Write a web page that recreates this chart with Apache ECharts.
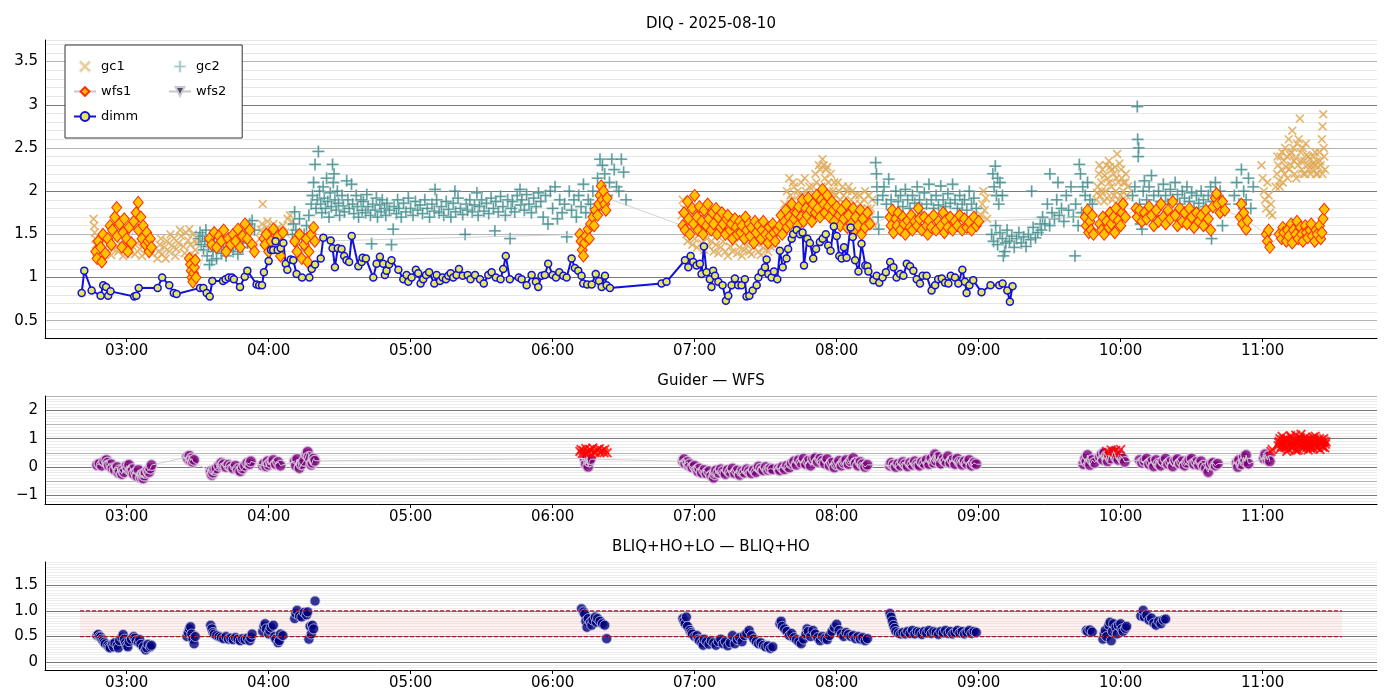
<!DOCTYPE html>
<html>
<head>
<meta charset="utf-8">
<script src="https://cdn.jsdelivr.net/npm/echarts@6/dist/echarts.min.js"></script>
<style>
  html, body { margin: 0; padding: 0; background: #fff; }
  #chart { width: 1400px; height: 700px; }
</style>
</head>
<body>
<div id="chart"></div>
<script>
// time values are minutes after 00:00 UT

const panelTitles = ["DIQ - 2025-08-10", "Guider — WFS", "BLIQ+HO+LO — BLIQ+HO"];
const hourTicks = [180, 240, 300, 360, 420, 480, 540, 600, 660];

const dimm = [
  [161.0,0.82],[162.1,1.08],[165.2,0.85],[169.0,0.79],[170.1,0.91],[171.3,0.89],[172.2,0.79],[173.2,0.84],
  [183.2,0.78],[184.1,0.79],[185.1,0.88],[193.1,0.88],[195.0,1.00],[198.0,0.91],[199.9,0.82],[201.1,0.81],
  [211.0,0.88],[212.4,0.88],[213.8,0.82],[215.1,0.78],[216.2,0.96],[220.7,0.96],[221.8,0.98],[223.1,1.00],
  [224.5,1.00],[225.3,0.98],[227.9,0.89],[229.9,1.01],[231.0,1.08],[234.9,0.92],[236.0,0.91],[237.2,0.91],
  [238.0,1.06],[240.0,1.19],[241.0,1.32],[241.9,1.32],[242.9,1.42],[243.8,1.32],[245.1,1.34],[246.2,1.40],
  [247.2,1.16],[247.9,1.09],[249.3,1.21],[250.4,1.20],[251.8,1.04],[254.1,1.00],[257.2,1.00],[258.2,1.10],
  [259.6,1.15],[262.0,1.22],[263.1,1.46],[266.2,1.43],[267.0,1.34],[268.0,1.12],[269.2,1.34],[270.8,1.33],
  [271.9,1.25],[272.9,1.20],[274.0,1.18],[275.1,1.48],[277.9,1.13],[279.3,1.18],[279.7,1.23],[281.1,1.22],
  [284.2,1.00],[285.6,1.16],[287.0,1.24],[288.4,1.16],[289.1,1.03],[289.8,1.08],[290.9,1.15],[291.9,1.20],
  [294.8,1.09],[296.9,0.98],[298.3,1.03],[299.0,0.95],[300.4,1.00],[302.2,1.09],[303.2,1.05],[304.2,0.93],
  [305.3,0.98],[306.5,1.03],[307.8,1.06],[310.0,0.93],[311.0,1.03],[312.4,0.96],[313.5,1.00],[314.9,0.98],
  [315.9,1.02],[316.9,1.05],[318.0,1.00],[319.4,1.03],[320.4,1.10],[322.0,1.02],[324.1,1.03],[325.3,0.98],
  [327.2,1.03],[329.3,0.98],[330.9,0.93],[332.8,1.03],[334.2,1.06],[336.0,1.00],[338.0,0.98],[339.1,1.10],
  [340.2,1.25],[341.9,0.98],[345.7,1.00],[346.9,0.98],[349.0,0.91],[351.1,1.03],[352.9,0.95],[353.9,0.89],
  [355.3,1.02],[356.7,1.03],[358.1,1.16],[360.0,1.03],[361.4,1.00],[362.8,1.06],[364.5,1.02],[365.9,1.00],
  [368.0,1.22],[369.4,1.11],[370.8,1.08],[372.2,1.02],[372.9,0.93],[374.6,0.92],[376.5,0.92],[378.2,1.04],
  [379.6,0.96],[380.7,0.89],[382.1,1.02],[382.8,0.91],[384.2,0.88],[406.0,0.93],[408.1,0.95],[415.9,1.20],
  [417.3,1.12],[418.3,1.25],[419.4,1.18],[420.8,1.14],[422.2,1.16],[422.9,1.04],[423.9,1.36],[425.0,1.06],
  [426.4,0.98],[427.1,0.89],[427.8,1.08],[428.6,1.02],[430.0,0.95],[431.8,0.91],[433.2,0.73],[434.2,0.79],
  [435.6,0.91],[437.0,0.99],[438.4,0.91],[439.8,0.91],[441.2,0.98],[441.9,0.78],[443.1,0.79],[444.5,0.85],
  [446.2,0.91],[446.9,1.00],[448.3,1.06],[449.7,1.12],[450.4,1.21],[451.1,1.04],[452.5,1.00],[453.5,1.07],
  [454.9,0.98],[456.0,1.31],[457.2,1.12],[458.8,1.22],[459.5,1.33],[461.0,1.45],[461.6,1.50],[463.1,1.55],
  [464.5,1.50],[465.6,1.52],[466.2,1.14],[467.6,1.45],[468.7,1.40],[470.1,1.22],[471.3,1.33],[472.9,1.41],
  [474.1,1.45],[475.4,1.50],[476.4,1.37],[477.4,1.31],[478.8,1.59],[480.0,1.48],[481.1,1.25],[482.1,1.22],
  [483.1,1.35],[484.2,1.23],[485.9,1.58],[486.8,1.47],[487.8,1.20],[489.2,1.07],[490.5,1.39],[492.1,1.14],
  [493.0,1.13],[493.4,1.07],[495.5,0.97],[496.9,1.02],[498.0,0.94],[499.4,1.00],[500.8,1.06],[502.6,1.18],
  [504.0,1.12],[505.3,1.00],[506.8,1.04],[508.2,1.02],[509.6,1.16],[511.0,1.13],[512.4,1.08],[513.8,0.98],
  [515.2,0.93],[516.3,1.02],[518.0,1.02],[520.1,0.85],[521.6,0.91],[522.9,0.98],[524.4,0.99],[525.8,0.94],
  [527.2,0.93],[528.2,1.02],[530.0,1.00],[531.4,0.93],[533.1,1.09],[534.2,0.95],[534.9,0.82],[536.1,0.91],
  [537.7,0.97],[541.2,0.83],[545.0,0.91],[548.7,0.91],[550.1,0.93],[552.1,0.85],[553.2,0.72],[554.3,0.90]
];

const gc1 = [
  [166,1.68],[166.3,1.6],[166.5,1.52],[166.8,1.45],[167,1.38],[167.2,1.3],[167.5,1.25],[168.5,1.35],[169.5,1.28],
  [170.5,1.42],[171.5,1.3],[172.5,1.38],[173.5,1.26],[174.5,1.33],[175.5,1.45],[176.5,1.3],[177.5,1.38],[178.5,1.25],
  [179.5,1.35],[180.5,1.42],[181.5,1.3],[182.5,1.36],[183.5,1.27],[184.5,1.4],[185.5,1.33],[186.5,1.25],[187.5,1.38],
  [188.5,1.3],[189.5,1.35],[190.5,1.28],
  [193,1.22],[193.5,1.3],[194,1.38],[195,1.27],[196,1.35],[197,1.42],[198,1.3],[199,1.37],[200,1.45],[201,1.33],
  [202,1.4],[203,1.48],[204,1.36],[205,1.52],[206,1.43],[207,1.38],[208,1.5],[209,1.32],[209.5,1.4],[210,1.45],
  [194.5,1.45],[196.5,1.22],[198.5,1.5],[200.5,1.25],[202.5,1.55],[204.5,1.28],[206.5,1.56],[208.5,1.25],
  [236.3,1.45],[236.8,1.55],[237.2,1.62],[237.5,1.85],[238,1.5],[238.5,1.4],[239,1.58],[239.5,1.65],[240,1.48],
  [241,1.55],[242,1.62],[242.5,1.42],[243,1.5],[244,1.58],[245,1.45],[246,1.6],[247,1.52],[248,1.68],[249,1.72],[250,1.65],
  [414.5,1.72],[415,1.9],[415.5,1.8],[416,1.62],[416.5,1.5],[417,1.42],[418,1.55],[419,1.38],[420,1.45],[421,1.35],
  [422,1.5],[423,1.4],[424,1.32],[425,1.45],[426,1.36],[427,1.42],[428,1.3],[429,1.38],[430,1.28],[431,1.35],
  [432,1.42],[433,1.3],[434,1.25],[435,1.36],[436,1.3],[437,1.4],[438,1.28],[439,1.35],[440,1.25],[441,1.32],
  [442,1.38],[443,1.3],[444,1.27],[445,1.35],[446,1.4],[447,1.3],[448,1.26],[449,1.34],[450,1.42],[451,1.3],
  [452,1.36],[453,1.45],[454,1.38],[455,1.5],
  [456,1.55],[457,1.7],[458,1.85],[459,2.0],[460,2.15],[461,1.9],[462,2.05],[463,1.75],[464,1.95],[465,2.1],
  [466,1.85],[467,2.0],[468,1.7],[469,1.9],[470,2.05],[471,2.2],[472,1.95],[473,2.25],[474,2.37],[474.5,2.3],
  [475,2.15],[476,2.28],[477,2.0],[478,1.9],[479,2.1],[480,1.85],[481,2.0],[482,1.75],[483,1.95],[484,1.8],
  [485,2.05],[486,1.9],[487,1.75],[488,1.95],[489,1.7],[490,1.85],[491,1.65],[492,2.0],[493,1.8],[494,1.7],
  [495,1.9],[496,1.6],
  [458.5,1.6],[459.5,1.75],[460.5,1.95],[461.5,2.1],[462.5,1.8],[463.5,2.0],[464.5,1.7],[465.5,1.95],[466.5,2.15],
  [467.5,1.8],[468.5,2.05],[469.5,1.75],[470.5,1.95],[471.5,2.1],[472.5,2.3],[473.5,2.05],[475.5,2.25],[476.5,2.1],
  [477.5,2.2],[478.5,2.0],[479.5,1.95],[480.5,2.1],[481.5,1.9],[482.5,2.05],[483.5,1.85],[484.5,2.0],[485.5,1.8],
  [486.5,2.0],[487.5,1.85],[488.5,1.75],[489.5,1.95],[490.5,1.8],[491.5,1.9],[492.5,1.7],[493.5,1.95],[494.5,1.8],
  [541,1.72],[541.5,1.85],[542,2.0],[542.5,1.78],[543,1.92],[543.5,1.68],
  [589.8,1.9],[590.3,2.05],[590.8,2.2],[591.3,1.95],[591.8,2.1],[592.3,2.25],[593,1.88],[593.5,2.0],[594,2.3],
  [594.5,2.15],[595,2.35],[595.5,2.28],[596,2.05],[596.5,1.9],[597,2.2],[597.5,2.28],[598,2.0],[598.5,2.43],
  [599,2.1],[599.5,2.32],[600,1.95],[600.5,2.15],[601,2.0],[601.5,1.88],[602,2.1],[602.5,1.95],[603,2.05],
  [590,1.98],[591,2.3],[592,2.0],[593.2,2.18],[594.2,1.92],[595.2,2.1],[596.2,2.25],[597.2,1.95],[598.2,2.15],
  [599.2,1.9],[600.2,2.25],[601.2,2.1],[602.2,2.2],
  [659.5,2.3],[660,2.15],[660.5,2.0],[661,1.9],[661.5,1.8],[662,2.1],[662.5,1.95],[663,1.75],[663.5,1.85],[664,1.72],
  [665.5,2.05],[666,2.2],[666.5,2.3],[667,2.12],[667.5,2.4],[668,2.25],[668.5,2.1],[669,2.35],[669.5,2.5],[670,2.28],
  [670.5,2.15],[671,2.6],[671.5,2.42],[672,2.3],[672.5,2.7],[673,2.5],[673.5,2.2],[674,2.38],[674.5,2.55],[675,2.3],
  [675.7,2.84],[676,2.45],[676.5,2.25],[677,2.5],[677.5,2.35],[678,2.2],[678.5,2.42],[679,2.3],[679.5,2.25],[680,2.38],
  [680.5,2.3],[681,2.25],[681.5,2.4],[682,2.3],[682.5,2.2],[683,2.35],[683.5,2.28],[684,2.45],[684.5,2.3],[685,2.6],
  [685.3,2.75],[685.6,2.89],[685.8,2.5],[686,2.4],[686.3,2.25],
  [666.2,2.4],[667.2,2.05],[668.2,2.45],[669.2,2.2],[670.2,2.4],[671.2,2.25],[672.2,2.45],[673.2,2.35],[674.2,2.15],
  [675.2,2.6],[676.2,2.35],[677.2,2.2],[678.2,2.55],[679.2,2.4],[680.2,2.2],[681.2,2.32],[682.2,2.45],[683.2,2.2],
  [684.2,2.35],[685.2,2.2]
];

const gc2 = [
  [210.5,1.45],[211,1.52],[211.5,1.38],[212,1.48],[212.5,1.32],[213,1.42],[213.5,1.55],[214,1.25],[214.5,1.36],[215,1.15],
  [215.5,1.45],[216,1.2],[216.5,1.3],[217,1.4],[218,1.22],[219,1.35],[220,1.28],[221,1.4],[222,1.25],[223,1.32],
  [224,1.45],[225,1.3],[226,1.38],[227,1.27],[228,1.42],[229,1.35],[230,1.5],[231,1.4],[232,1.62],[233,1.66],[234,1.55],
  [250,1.5],[250.5,1.62],[251,1.76],[251.5,1.55],[252,1.45],[253,1.68],[254,1.38],[255,1.5],[256,1.6],[257,1.72],[258,1.85],
  [258.5,1.95],[259,2.1],[259.6,2.31],[260,1.8],[260.5,1.9],[261,2.46],[261.5,2.0],[262,1.85],[262.5,1.75],[263,2.05],
  [263.5,1.92],[264,1.8],[264.5,2.15],[265,1.88],[265.5,1.7],[266,1.98],[266.5,1.82],[267,2.31],[267.3,2.1],[267.6,2.2],
  [268,1.9],[268.5,1.78],[269,2.0],[269.5,1.86],[270,1.72],[271,1.95],[271.5,1.83],[272,1.76],[273,2.12],[273.5,1.9],
  [274,1.8],[275,2.08],[275.5,1.85],[276,1.74],[277,1.95],[277.5,1.82],[278,1.7],[279,1.9],[279.5,1.78],[280,1.88],
  [281,1.75],[281.5,1.96],[282,1.82],[283,1.72],[283.5,1.39],[284,1.85],[285,1.78],[285.5,1.92],[286,1.7],[287,1.84],
  [287.5,1.76],[288,1.9],[289,1.8],[289.5,1.72],[290,1.86],[291,1.78],[291.9,1.38],[292.6,1.56],[293,1.82],[294,1.74],
  [294.5,1.9],[295,1.8],[296,1.7],[297,1.86],[298,1.76],[299,1.92],[300,1.8],[301,1.72],[302,1.88],[303,1.78],
  [304,1.84],[305,1.74],[306,1.9],[307,1.8],[308,1.7],[309,1.85],[310,1.77],[310.3,2.02],[311,1.9],[312,1.75],
  [313,1.82],[314,1.72],[315,1.88],[316,1.79],[317,1.7],[318,1.86],[318.7,2.0],[319,1.76],[320,1.92],[321,1.8],
  [322,1.73],[323,1.5],[323.5,1.85],[324,1.78],[325,1.9],[326,1.76],[327,1.84],[328,1.98],[328.5,1.72],[329,1.82],
  [330,1.9],[331,1.77],[332,1.86],[333,1.74],[334,1.92],[335,1.8],[335.6,1.54],[336,1.88],[337,1.76],[338,1.94],
  [339,1.82],[340,1.72],[341,1.9],[342,1.45],[342.5,1.8],[343,1.88],[344,1.76],[345,1.95],[346.2,2.02],[346.5,1.84],
  [347,1.9],[348,1.78],[349,1.96],[350,1.85],[351,1.75],[352,1.92],[353,1.82],[354,1.98],[355,1.88],[356,1.7],
  [357,1.95],[358,1.62],[359,2.0],[360,1.8],[361,2.05],[362,1.68],[363,1.9],[364,1.75],[365,1.85],[366,1.47],
  [367,2.0],[368,1.78],[369,1.9],[370,1.7],[371,1.95],[372,1.82],[373,2.08],[374,1.75],[375,1.9],[376,1.85],
  [377,2.0],[378,1.8],[379,2.15],[380,2.37],[381,2.3],[382,2.2],[383,1.95],[384,2.1],[385,2.37],[386,2.25],
  [387,2.05],[388,2.0],[389,2.37],[390,2.22],[391,1.9],
  [496.5,2.33],[496.8,2.2],[497,2.05],[497.2,1.9],[497.5,1.7],[497.8,1.56],
  [499.5,1.95],[500,2.05],[501,1.85],[502,2.14],[503,1.9],[504,1.78],[505,2.0],[506,1.88],[507,1.95],[508,1.82],
  [509,2.02],[510,1.9],[511,1.8],[512,1.95],[513,1.86],[514,2.05],[515,1.9],[516,1.8],[517,1.98],[518,1.85],
  [519,2.08],[520,1.9],[521,1.8],[522,1.95],[523,1.84],[524,2.06],[525,1.9],[526,1.82],[527,1.97],[528,1.86],
  [529,2.08],[530,1.9],[531,1.8],[532,1.95],[533,1.85],[534,1.9],[535,1.78],[536,2.0],[537,1.85],[538,1.92],[539,1.8],
  [546,2.2],[546.5,2.05],[547,2.29],[547.5,1.95],[548,2.15],[548.5,1.85],[549,2.1],[550,1.95],
  [545.5,1.5],[546.3,1.42],[547.2,1.6],[548,1.38],[549,1.52],[550,1.45],[550.4,1.25],[551,1.3],[551.5,1.4],[552,1.55],
  [553,1.42],[554,1.48],[555,1.35],[556,1.45],[557,1.52],[558,1.4],[559,1.47],[560,1.36],[561,1.5],[562,1.44],
  [562.4,2.0],[563,1.58],[564,1.46],[565,1.52],[566,1.62],
  [566.5,1.55],[567,1.7],[568,1.62],[569,1.85],[570,1.6],[570.1,2.2],[571,1.75],[572,1.68],[573,1.9],[573.5,2.1],
  [574,1.72],[575,1.8],[576,1.65],[577,1.95],[578,1.78],[579,2.05],[580,1.7],[580.7,1.25],[581,1.85],[582,1.6],
  [582.5,2.31],[583,2.2],[583.5,1.75],[584,2.05],[585,1.95],[586,2.1],[587,1.9],[588,1.85],
  [605,1.95],[606,2.05],[607,2.98],[607.2,2.6],[607.4,2.4],[607.6,2.5],[608,1.85],[608.5,1.62],[609,1.56],[609.5,2.0],
  [610,2.12],[611,1.9],[612,2.05],[613,2.18],[614,1.95],[615,1.7],[616,2.0],[617,1.88],[618,2.08],[619,1.95],
  [620,1.85],[621,2.02],[622,1.9],[623,2.1],[624,1.96],[625,1.85],[626,2.0],[627,1.92],[628,2.05],[629,1.88],
  [630,1.98],[631,1.8],[632,1.95],[633,1.86],[634,2.0],[635,1.9],[636,1.82],[637,1.95],[638,2.05],[638.4,1.45],
  [639,1.88],[640,2.1],[641,1.95],[642,2.0],[643,1.6],[644,1.85],
  [648,1.95],[649,2.1],[650,1.85],[651,2.25],[652,2.0],[653,1.9],[654,2.15],[655,1.8],[656,2.05]
];

const wfs1 = [
  [167,1.3],[167.5,1.22],[168,1.42],[169,1.35],[169.5,1.18],[170,1.5],[171,1.28],[172,1.45],[173,1.6],[173.5,1.38],
  [174,1.55],[175,1.7],[175.8,1.81],[176,1.48],[177,1.62],[178,1.35],[178.5,1.52],[179,1.68],[180,1.45],[180.5,1.3],
  [181,1.58],[182,1.4],[183,1.65],[184,1.75],[184.9,1.87],[185,1.55],[186,1.7],[186.5,1.45],[187,1.6],[188,1.38],
  [188.5,1.52],[189,1.42],[189.5,1.3],[190,1.45],[190.5,1.35],
  [206.5,1.22],[207,1.15],[207.3,1.08],[207.6,1.0],[208,0.95],[208.3,1.05],[208.6,1.12],[209,1.2],[209.3,1.0],
  [215,1.45],[216,1.38],[217,1.52],[218,1.35],[219,1.48],[220,1.42],[221,1.55],[222,1.3],[223,1.45],[224,1.38],
  [225,1.5],[226,1.42],[227,1.56],[228,1.35],[229,1.48],[230,1.62],[231,1.45],[232,1.55],[233,1.38],[234,1.3],
  [238,1.45],[238.5,1.38],[239,1.5],[240,1.3],[241,1.42],[242,1.56],[243,1.35],[244,1.48],[245,1.25],[246,1.52],
  [251,1.42],[252,1.3],[253,1.5],[254,1.22],[255,1.38],[256,1.45],[256.5,1.18],[257,1.3],[258,1.5],[259,1.58],[259.5,1.42],
  [371.5,1.5],[372,1.42],[372.5,1.32],[373,1.25],[373.5,1.4],[374,1.48],[375,1.56],[375.5,1.45],[376,1.62],[377,1.7],
  [377.5,1.6],[378,1.78],[379,1.72],[379.5,1.85],[380,1.95],[380.5,2.06],[381,1.9],[381.5,2.0],[382,1.85],[382.5,1.78],[383,1.92],
  [415,1.6],[415.5,1.75],[416,1.55],[417,1.88],[417.5,1.68],[418,1.5],[419,1.8],[419.5,1.62],[420,1.95],[421,1.7],
  [421.5,1.55],[422,1.82],[423,1.65],[423.5,1.5],[424,1.78],[425,1.6],[425.5,1.85],[426,1.68],[427,1.55],[427.5,1.75],
  [428,1.62],[429,1.8],[429.5,1.5],[430,1.7],[431,1.58],[431.5,1.75],[432,1.62],[433,1.5],[433.5,1.68],[434,1.72],
  [435,1.55],[435.5,1.62],[436,1.45],[437,1.68],[437.5,1.58],[438,1.5],[439,1.65],[439.5,1.52],[440,1.6],[441,1.45],
  [441.5,1.7],[442,1.55],[443,1.62],[443.5,1.48],[444,1.58],[445,1.4],[445.5,1.65],[446,1.52],[447,1.6],[448,1.45],
  [448.5,1.55],[449,1.65],[450,1.5],[451,1.4],[451.5,1.58],[452,1.48],[453,1.62],[453.5,1.52],[454,1.42],[455,1.55],
  [456,1.6],[456.5,1.72],[457,1.5],[458,1.65],[458.5,1.78],[459,1.58],[460,1.7],[460.5,1.62],[461,1.85],[462,1.68],
  [463,1.75],[463.5,1.6],[464,1.82],[465,1.7],[465.5,1.9],[466,1.65],[467,1.8],[467.5,1.72],[468,1.92],[469,1.78],
  [469.5,1.65],[470,1.85],[471,1.75],[471.5,1.95],[472,1.8],[473,1.7],[473.5,1.9],[474,2.02],[474.5,1.85],[475,1.75],
  [476,1.95],[476.5,1.82],[477,1.7],[478,1.88],[478.5,1.78],[479,1.65],[480,1.82],[481,1.72],[481.5,1.6],[482,1.78],
  [483,1.68],[484,1.85],[484.5,1.58],[485,1.72],[486,1.62],[487,1.8],[487.5,1.55],[488,1.7],[489,1.6],[490,1.78],
  [490.5,1.5],[491,1.68],[492,1.58],[493,1.75],[494,1.62],
  [502.5,1.7],[503,1.6],[503.5,1.78],[504,1.52],[505,1.68],[505.5,1.6],[506,1.75],[507,1.55],[508,1.7],[508.5,1.62],
  [509,1.5],[510,1.66],[511,1.58],[511.5,1.72],[512,1.55],[513,1.65],[514,1.6],[514.5,1.8],[515,1.68],[516,1.55],
  [517,1.7],[518,1.6],[518.5,1.5],[519,1.66],[520,1.58],[521,1.72],[522,1.55],[523,1.65],[524,1.6],[525,1.75],
  [525.5,1.52],[526,1.66],[527,1.58],[528,1.7],[529,1.55],[530,1.65],[531,1.6],[532,1.72],[533,1.55],[534,1.68],
  [535,1.58],[536,1.64],[537,1.55],[538,1.7],[539,1.6],[540,1.65],
  [585,1.7],[585.5,1.6],[586,1.78],[586.5,1.52],[587,1.65],[587.5,1.55],[588,1.72],[588.5,1.5],
  [591.2,1.62],[592,1.55],[592.5,1.7],[593,1.5],[594,1.65],[595,1.58],[595.5,1.75],[596,1.62],[597,1.7],[597.5,1.52],
  [598,1.8],[599,1.66],[600,1.6],[600.5,1.75],[601,1.85],[602,1.7],
  [606.5,1.8],[607,1.7],[608,1.78],[609,1.65],[610,1.75],[611,1.68],[612,1.82],[613,1.72],[614,1.6],[615,1.78],
  [616,1.65],[617,1.85],[618,1.7],[619,1.62],[620,1.78],[621,1.68],[622,1.88],[623,1.72],[624,1.6],[625,1.8],
  [626,1.65],[627,1.75],[628,1.62],[629,1.8],[630,1.7],[631,1.58],[632,1.75],[633,1.65],[634,1.72],[635,1.6],
  [636,1.78],[637,1.68],[638,1.55],[639,1.82],[640,1.92],[640.5,1.97],[641,1.85],[642,1.75],[643,1.88],[644,1.78],
  [650.5,1.7],[651,1.85],[651.5,1.62],[652,1.75],[653,1.56],[653.5,1.66],
  [661.5,1.5],[662,1.42],[662.5,1.55],[663,1.35],
  [667,1.5],[668,1.45],[668.5,1.58],[669,1.52],[670,1.42],[670.5,1.55],[671,1.48],[672,1.62],[672.5,1.4],[673,1.55],
  [674,1.5],[674.5,1.65],[675,1.45],[676,1.58],[676.5,1.5],[677,1.42],[678,1.6],[678.5,1.52],[679,1.46],[680,1.55],
  [680.5,1.62],[681,1.48],[682,1.42],[682.5,1.55],[683,1.5],[684,1.6],[684.5,1.45],[685,1.52],[685.5,1.68],[686,1.79]
];

const wfs2 = [];

const guider = [
  [167.5,0.07],[168.5,0.12],[169.5,0.05],[170.5,0.2],[171.5,0.25],[172,0.15],[172.5,0.05],[173.5,0.1],[174,-0.05],[175,-0.1],
  [176,0.0],[176.5,-0.2],[177,-0.12],[178,-0.25],[178.5,-0.1],[179,-0.18],[180,0.05],[180.5,-0.05],[181,0.08],[182,-0.15],
  [182.5,-0.08],[183,-0.25],[184,-0.2],[184.5,-0.33],[185,-0.1],[186,-0.38],[186.5,-0.28],[187,-0.4],[187.5,-0.3],[188,-0.2],
  [189,-0.12],[189.5,-0.18],[190,-0.05],[190.5,0.07],
  [205.5,0.35],[206,0.28],[206.5,0.4],[207,0.22],[207.5,0.3],[208,0.18],[208.5,0.25],
  [215.5,-0.15],[216,-0.28],[216.5,-0.2],[217,-0.1],[218,-0.05],[219,0.05],[220,0.15],[220.5,0.05],[221,0.1],[222,0.0],
  [223,0.08],[224,0.02],[225,-0.05],[226,0.05],[227,-0.08],[228,-0.15],[229,-0.05],[230,0.05],[231,0.15],[232,0.1],[232.5,0.2],
  [237.5,0.05],[238,0.12],[239,0.02],[239.5,0.2],[240,0.08],[241,0.15],[242,0.25],[243,0.1],[244,0.18],[245,0.05],
  [251,0.2],[251.5,0.05],[252,0.28],[253,-0.04],[254,0.1],[255,0.22],[256,0.45],[256.5,0.54],[257,0.35],[258,0.08],
  [258.5,0.15],[259,0.3],[259.5,0.22],
  [373.5,0.3],[374,0.1],[374.5,0.36],[375,0.01],[375.5,0.2],[376,0.28],
  [415,0.2],[415.5,0.28],[416,0.12],[417,0.18],[417.5,0.05],[418,0.1],[419,-0.02],[420,0.05],[421,-0.1],[421.5,-0.16],
  [422,-0.05],[423,-0.2],[424,-0.1],[425,-0.22],[426,-0.15],[427,-0.3],[428,-0.38],[428.5,-0.25],[429,-0.12],[430,-0.2],
  [431,-0.08],[432,-0.16],[433,-0.25],[434,-0.1],[435,-0.18],[436,-0.05],[437,-0.22],[438,-0.12],[439,-0.28],[440,-0.15],
  [441,-0.2],[442,-0.08],[443,-0.15],[444,-0.22],[445,-0.1],[446,-0.18],[447,0.02],[448,-0.06],[449,-0.12],[450,0.0],
  [451,-0.1],[452,-0.05],[453,-0.08],
  [455.5,-0.05],[456,-0.12],[457,0.0],[458,-0.08],[459,0.05],[460,-0.02],[461,0.12],[462,0.2],[463,0.08],[464,0.25],
  [465,0.15],[466,0.3],[467,0.1],[468,0.22],[469,0.05],[470,0.28],[471,0.32],[472,0.18],[473,0.3],[474,0.22],
  [475,0.12],[476,0.28],[477,0.05],[478,0.15],[479,-0.02],[480,0.1],[481,0.22],[482,0.05],[483,0.15],[484,0.25],
  [485,0.1],[486,0.2],[487,0.32],[488,0.15],[489,0.05],[490,0.18],[491,0.1],[492,0.0],[493,0.08],
  [502.5,0.05],[503,0.15],[504,0.08],[505,0.0],[506,0.12],[507,0.05],[508,0.18],[509,0.1],[510,0.02],[511,0.15],
  [512,0.08],[513,0.2],[514,0.1],[515,0.05],[516,0.18],[517,0.12],[518,0.25],[519,0.1],[520,0.3],[521,0.15],
  [521.5,0.45],[522,0.22],[523,0.35],[524,0.12],[525,0.28],[526,0.2],[527,0.38],[528,0.15],[529,0.25],[530,0.1],
  [531,0.3],[532,0.18],[533,0.08],[534,0.2],[535,0.12],[536,0.25],[537,0.05],[538,0.15],[539,0.1],
  [584.2,0.1],[585,0.3],[585.5,0.2],[586,0.42],[587,0.07],[588,0.25],[589,0.15],
  [591.2,0.35],[592,0.45],[592.5,0.25],[593,0.5],[594,0.38],[594.5,0.2],[595,0.42],[596,0.3],[597,0.55],[598,0.35],
  [599,0.25],[600,0.4],[601,0.3],[601.7,0.18],
  [608,0.25],[609,0.15],[610,0.22],[611,0.3],[612,0.1],[613,0.18],[614,0.02],[615,0.25],[616,0.12],[617,0.05],
  [618,0.2],[619,0.3],[620,0.1],[621,0.18],[622,0.02],[623,0.22],[624,0.28],[625,0.12],[626,0.2],[627,0.05],
  [628,0.15],[629,0.25],[630,0.3],[631,0.1],[632,0.18],[633,0.08],[634,0.2],[635,0.05],[636,-0.05],[637,-0.18],
  [638,0.1],[639,0.15],[640,0.05],[641,0.12],
  [649,0.15],[649.5,0.0],[650,0.25],[651,0.1],[652,0.35],[652.5,0.2],[653,0.42],[654,0.12],
  [660.5,0.3],[661,0.45],[662,0.25],[662.5,0.38],[663,0.2]
];

const guiderFlag = [
  [371.5,0.55],[372,0.62],[372.5,0.48],[373,0.58],[374,0.65],[375,0.5],[376,0.6],[376.5,0.45],[377,0.67],[378,0.55],
  [379,0.6],[380,0.52],[381,0.58],[382,0.62],[383,0.5],[373.7,0.5],[375.7,0.62],[377.7,0.5],[379.7,0.64],[381.7,0.5],
  [594,0.55],[595,0.5],[596,0.6],[597,0.52],[598,0.58],[599,0.5],[600,0.62],
  [663.5,0.55],[664,0.62],
  [666.5,0.75],[667,0.9],[667.5,0.65],[668,0.82],[668.2,1.08],[668.5,0.95],[669,0.7],[669.5,0.88],[670,1.0],[670.2,0.55],
  [670.5,0.78],[671,0.62],[671.5,0.9],[672,1.05],[672.5,0.8],[673,0.7],[673.5,0.95],[674,1.12],[674.2,0.58],[674.5,0.85],
  [675,0.6],[675.5,0.78],[676,1.0],[676.2,1.15],[676.5,0.9],[677,0.72],[677.5,0.85],[678,1.05],[678.5,0.68],[679,0.92],
  [679.2,0.6],[679.5,0.8],[680,1.0],[680.5,0.75],[681,0.88],[681.5,0.65],[682,0.95],[682.2,1.08],[682.5,0.82],[683,0.72],
  [683.5,0.9],[684,1.0],[684.2,0.62],[684.5,0.78],[685,0.85],[685.5,0.7],[686,0.9],[686.5,0.8],
  [666.8,0.85],[667.3,1.0],[667.8,0.72],[668.8,0.8],[669.3,0.98],[669.8,0.68],[670.8,0.95],[671.3,0.75],[671.8,1.1],
  [672.3,0.68],[672.8,0.92],[673.3,0.82],[673.8,0.62],[674.8,0.98],[675.3,0.88],[675.8,1.05],[676.8,0.65],[677.3,0.95],
  [677.8,0.75],[678.3,0.9],[678.8,1.0],[679.3,0.72],[679.8,0.88],[680.3,0.65],[680.8,0.95],[681.3,1.05],[681.8,0.78],
  [682.8,0.9],[683.3,0.68],[683.8,0.85],[684.8,0.95],[685.3,0.75],[685.8,1.0],[686.3,0.68],[686.8,0.88]
];

const bliq = [
  [167.5,0.52],[168,0.54],[168.5,0.5],[169,0.49],[169.5,0.45],[170,0.42],[170.5,0.39],[171,0.36],[172,0.33],[172.5,0.3],
  [173,0.28],[174,0.35],[174.5,0.3],[175,0.38],[176,0.33],[176.5,0.28],[177,0.42],[178,0.48],[178.5,0.54],[179,0.45],
  [179.5,0.38],[180,0.33],[180.5,0.3],[181,0.4],[182,0.45],[183,0.5],[183.5,0.47],[184,0.42],[185,0.39],[185.5,0.44],
  [186,0.35],[187,0.3],[188,0.24],[188.5,0.28],[189,0.35],[190,0.3],[190.5,0.33],
  [205.5,0.5],[206,0.58],[206.5,0.65],[207,0.69],[207.5,0.55],[208,0.45],[208.5,0.36],[209,0.5],
  [215.5,0.72],[216,0.65],[216.5,0.58],[217,0.55],[218,0.52],[219,0.5],[220,0.48],[221,0.46],[222,0.5],[223,0.45],
  [224,0.47],[225,0.44],[226,0.48],[227,0.45],[228,0.42],[229,0.46],[230,0.44],[231,0.47],[232,0.42],[232.5,0.48],[233,0.55],
  [237.5,0.6],[238,0.7],[238.5,0.75],[239,0.65],[240,0.55],[240.5,0.62],[241,0.68],[242,0.72],[242.5,0.5],[243,0.45],
  [244,0.38],[244.5,0.42],[245,0.55],[246,0.52],
  [251,0.85],[251.5,0.95],[252,1.01],[253,0.9],[254,0.88],[255,0.97],[256,0.92],[256.5,0.98],[257,0.45],[257.5,0.7],
  [258,0.55],[258.5,0.72],[259,0.65],[259.6,1.19],
  [372.2,1.04],[373,0.98],[373.5,0.94],[374,0.8],[374.5,0.68],[375,0.85],[376,0.78],[376.5,0.72],[377,0.82],[378,0.88],
  [378.5,0.78],[379,0.85],[380,0.8],[381,0.75],[382,0.72],[382.8,0.46],
  [415,0.85],[415.5,0.8],[416,0.75],[416.5,0.88],[417,0.7],[418,0.62],[418.5,0.58],[419,0.55],[420,0.5],[421,0.52],
  [421.5,0.45],[422,0.42],[423,0.38],[423.6,0.33],[424,0.45],[425,0.4],[426,0.35],[427,0.42],[428,0.38],[429,0.33],
  [430,0.4],[431,0.45],[432,0.36],[433,0.4],[434,0.32],[435,0.38],[436,0.52],[437,0.36],[438,0.44],[439,0.48],
  [440,0.4],[441,0.52],[442,0.56],[443,0.62],[444,0.52],[445,0.45],[446,0.4],[447,0.36],[448,0.38],[449,0.33],
  [450,0.3],[451,0.32],[452,0.27],[453,0.3],
  [456,0.75],[456.5,0.8],[457,0.7],[458,0.65],[459,0.6],[460,0.52],[461,0.56],[462,0.48],[463,0.44],[464,0.4],
  [465,0.36],[466,0.45],[467,0.55],[467.5,0.65],[468,0.6],[469,0.5],[470,0.62],[471,0.55],[472,0.48],[473,0.42],
  [474,0.5],[475,0.46],[476,0.44],[477,0.52],[478,0.6],[479,0.68],[480,0.74],[481,0.62],[482,0.55],[483,0.5],
  [484,0.58],[485,0.54],[486,0.5],[487,0.52],[488,0.46],[489,0.5],[490,0.45],[491,0.48],[492,0.42],[493,0.46],
  [502.5,0.95],[503,0.88],[503.5,0.8],[504,0.72],[504.5,0.66],[505,0.6],[506,0.57],[507,0.55],[508,0.58],[509,0.55],
  [510,0.6],[511,0.56],[512,0.62],[513,0.55],[514,0.6],[515,0.58],[516,0.54],[517,0.6],[518,0.57],[519,0.62],
  [520,0.56],[521,0.6],[522,0.58],[523,0.54],[524,0.6],[525,0.57],[526,0.62],[527,0.56],[528,0.6],[529,0.55],
  [530,0.58],[531,0.62],[532,0.57],[533,0.6],[534,0.55],[535,0.58],[536,0.62],[537,0.56],[538,0.6],[539,0.58],
  [585.5,0.62],[586,0.6],[587,0.63],[588,0.59],
  [592.5,0.45],[593,0.55],[593.5,0.62],[594,0.5],[595,0.72],[595.5,0.78],[596,0.42],[596.5,0.6],[597,0.75],[598,0.68],
  [598.5,0.55],[599,0.72],[600,0.75],[600.5,0.65],[601,0.6],[602,0.66],[602.5,0.7],
  [608.5,0.9],[609.5,1.01],[610,0.88],[611,0.92],[612,0.82],[613,0.86],[614,0.76],[615,0.72],[616,0.8],[617,0.75],
  [618,0.82],[619,0.84]
];

const bliqLimits = [0.5, 1.0];
const bliqSpan = [160.3, 693.5];

// ---------- helpers ----------
const FONT = '"DejaVu Sans", sans-serif';
const plusPath = 'path://M4.25,0H5.75V4.25H10V5.75H5.75V10H4.25V5.75H0V4.25H4.25Z';
const crossPath = 'path://M1.3,0L5,3.7L8.7,0L10,1.3L6.3,5L10,8.7L8.7,10L5,6.3L1.3,10L0,8.7L3.7,5L0,1.3Z';

function hhmm(v) {
  const h = Math.floor(v / 60), m = Math.round(v - h * 60);
  return String(h).padStart(2, '0') + ':' + String(m).padStart(2, '0');
}
function isStep(v, s) {
  const r = v / s;
  return Math.abs(r - Math.round(r)) < 1e-6;
}
function gridColors(len, darkIdx, midIdx, light) {
  const arr = [];
  for (let i = 0; i < len; i++) arr.push(i === darkIdx ? '#7a7a7a' : (i === midIdx ? '#b4b4b4' : light));
  return arr;
}

const chart = echarts.init(document.getElementById('chart'));

const xAxisBase = (gi) => ({
  type: 'value', gridIndex: gi, min: 145.5, max: 708.3,
  axisLine: { show: true, onZero: false, lineStyle: { color: '#000', width: 1 } },
  axisTick: { show: true, customValues: hourTicks, length: 4, lineStyle: { color: '#000' } },
  axisLabel: { customValues: hourTicks, formatter: hhmm, color: '#000', fontSize: 15, fontFamily: FONT, margin: 6 },
  splitLine: { show: false }
});

const yAxisBase = (gi, min, max, interval, colors, formatter) => ({
  type: 'value', gridIndex: gi, min: min, max: max, interval: interval,
  axisLine: { show: true, onZero: false, lineStyle: { color: '#000', width: 1 } },
  axisTick: { show: false },
  axisLabel: { formatter: formatter, color: '#000', fontSize: 15, fontFamily: FONT, margin: 7 },
  splitLine: { show: true, lineStyle: { color: colors, width: 1 } }
});

chart.setOption({
  animation: false,
  backgroundColor: '#fff',
  textStyle: { fontFamily: FONT },
  graphic: panelTitles.map((t, i) => ({
    type: 'text', x: 711, y: [24, 381, 547][i], silent: true,
    style: { text: t, fill: '#000', font: '15px ' + FONT, align: 'center', verticalAlign: 'middle' }
  })),
  grid: [
    { left: 45, right: 23, top: 40, height: 298, outerBoundsMode: 'none' },
    { left: 45, right: 23, top: 396, height: 108, outerBoundsMode: 'none' },
    { left: 45, right: 23, top: 562, height: 108, outerBoundsMode: 'none' }
  ],
  legend: [
    {
      data: ['gc1', 'wfs1', 'dimm'], orient: 'vertical', left: 65, top: 45,
      padding: [15, 104, 15, 8], itemWidth: 22, itemHeight: 11, itemGap: 12, itemTextGap: 10,
      borderColor: '#333', borderWidth: 1, backgroundColor: '#fff', selectedMode: false,
      textStyle: { fontSize: 13, color: '#000', fontFamily: FONT }
    },
    {
      data: ['gc2', 'wfs2'], orient: 'vertical', left: 168, top: 60, z: 6,
      padding: 0, itemWidth: 22, itemHeight: 11, itemGap: 12, itemTextGap: 10, selectedMode: false,
      textStyle: { fontSize: 13, color: '#000', fontFamily: FONT }
    }
  ],
  xAxis: [xAxisBase(0), xAxisBase(1), xAxisBase(2)],
  yAxis: [
    yAxisBase(0, 0.3, 3.75, 0.1, gridColors(10, 7, 2, '#e6e6e6'),
      v => isStep(v, 0.5) ? (isStep(v, 1) ? String(Math.round(v)) : v.toFixed(1)) : ''),
    yAxisBase(1, -1.3, 2.5, 0.1, gridColors(10, 3, 8, '#ebebeb'),
      v => isStep(v, 1) ? String(Math.round(v)).replace('-', '\u2212') : ''),
    yAxisBase(2, -0.15, 1.95, 0.05, gridColors(10, 3, -1, '#ededed'),
      v => isStep(v, 0.5) ? (Math.abs(v) < 1e-9 ? '0' : v.toFixed(1)) : '')
  ],
  series: [
    {
      name: 'gc1', type: 'scatter', xAxisIndex: 0, yAxisIndex: 0, data: gc1, silent: true,
      symbol: crossPath, symbolSize: 9,
      itemStyle: { color: '#dfa145', borderColor: 'rgba(240,225,200,0.6)', borderWidth: 0.5 }
    },
    {
      name: 'gc2', type: 'scatter', xAxisIndex: 0, yAxisIndex: 0, data: gc2, silent: true,
      symbol: plusPath, symbolSize: 12,
      itemStyle: { color: '#2c7f80', borderColor: 'rgba(225,238,238,0.7)', borderWidth: 0.6 }
    },
    {
      name: 'wfs1', type: 'line', xAxisIndex: 0, yAxisIndex: 0, data: wfs1, silent: true,
      symbol: 'diamond', symbolSize: [10, 12], showSymbol: true,
      lineStyle: { color: '#c8c8c8', width: 0.8 },
      itemStyle: { color: '#ffc300', borderColor: '#ff2a00', borderWidth: 1 }
    },
    {
      name: 'wfs2', type: 'line', xAxisIndex: 0, yAxisIndex: 0, data: wfs2, silent: true,
      symbol: 'path://M0,0L10,0L5,9Z', symbolSize: 9,
      lineStyle: { color: '#c8c8c8', width: 0.8 },
      itemStyle: { color: '#4f4f60', borderColor: '#c8c8d0', borderWidth: 0.6 }
    },
    {
      name: 'dimm', type: 'line', xAxisIndex: 0, yAxisIndex: 0, data: dimm, silent: true,
      symbol: 'circle', symbolSize: 7, showSymbol: true,
      lineStyle: { color: '#1212d6', width: 2 },
      itemStyle: { color: '#e6e65c', borderColor: '#1212d6', borderWidth: 1.5 }
    },
    {
      name: 'guiderTrack', type: 'line', xAxisIndex: 1, yAxisIndex: 1, data: guider, silent: true,
      showSymbol: false, lineStyle: { color: '#cfcfcf', width: 1 }
    },
    {
      name: 'guider', type: 'scatter', xAxisIndex: 1, yAxisIndex: 1, data: guider, silent: true,
      symbol: 'circle', symbolSize: 11,
      itemStyle: { color: '#7d007d', borderColor: 'rgba(222,208,228,0.95)', borderWidth: 1.5 }
    },
    {
      name: 'guiderFlag', type: 'scatter', xAxisIndex: 1, yAxisIndex: 1, data: guiderFlag, silent: true,
      symbol: crossPath, symbolSize: 10,
      itemStyle: { color: '#ff0000' }
    },
    {
      name: 'bandLow', type: 'line', xAxisIndex: 2, yAxisIndex: 2, silent: true,
      data: [[bliqSpan[0], bliqLimits[0]], [bliqSpan[1], bliqLimits[0]]],
      showSymbol: false, lineStyle: { color: '#a11d2e', width: 1.3, type: [4, 2] },
      markArea: {
        silent: true,
        itemStyle: { color: 'rgba(255,185,185,0.22)' },
        data: [[{ coord: [bliqSpan[0], bliqLimits[0]] }, { coord: [bliqSpan[1], bliqLimits[1]] }]]
      }
    },
    {
      name: 'bandHigh', type: 'line', xAxisIndex: 2, yAxisIndex: 2, silent: true,
      data: [[bliqSpan[0], bliqLimits[1]], [bliqSpan[1], bliqLimits[1]]],
      showSymbol: false, lineStyle: { color: '#a11d2e', width: 1.3, type: [4, 2] }
    },
    {
      name: 'bliq', type: 'scatter', xAxisIndex: 2, yAxisIndex: 2, data: bliq, silent: true,
      symbol: 'circle', symbolSize: 10,
      itemStyle: { color: '#00007e', borderColor: 'rgba(196,202,228,0.95)', borderWidth: 1 }
    }
  ]
});
</script>
</body>
</html>
